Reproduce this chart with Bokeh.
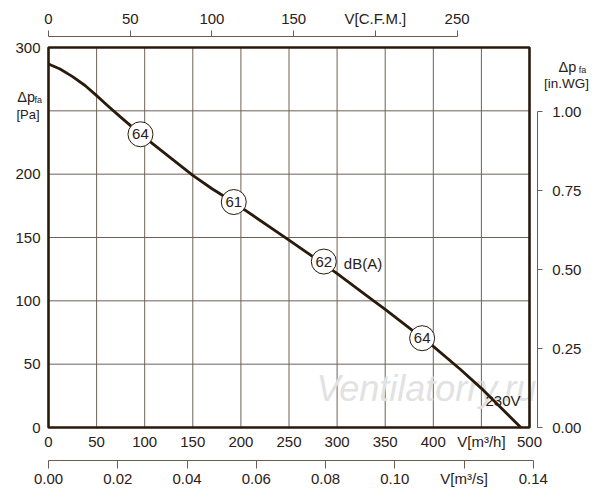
from bokeh.plotting import figure
from bokeh.models import (Range1d, LinearAxis, FixedTicker, BoxAnnotation, Label,
                          ColumnDataSource, NumeralTickFormatter)
from bokeh.embed import file_html
from bokeh.resources import INLINE
from bokeh.core.properties import value

# ---------------- data ----------------
flow_m3h = [0, 12, 25, 38, 50, 63, 75, 95, 120, 150, 170, 192, 250, 298, 338, 350, 388, 400, 428, 452, 491]
pressure_pa = [287, 283, 277, 270, 262, 253, 245, 232, 217, 199, 188.5, 178, 148, 122.6, 100, 93.3, 71, 64, 46, 29.5, 0]

noise_flow = [95.6, 192.6, 286.2, 388.4]
noise_pa = [231.5, 178, 131, 70.5]
noise_db = ["64", "61", "62", "64"]

x_ticks = [0, 50, 100, 150, 200, 250, 300, 350, 400, 450, 500]
y_grid = [0, 50, 100, 150, 200, 250, 300]
y_ticks = [0, 50, 100, 150, 200, 300]
cfm_ticks = [0, 50, 100, 150, 200, 250]
m3s_ticks = [0.0, 0.02, 0.04, 0.06, 0.08, 0.10, 0.12, 0.14]
inwg_ticks = [0.0, 0.25, 0.5, 0.75, 1.0]

M3H_PER_CFM = 1.699
M3H_PER_M3S = 3600.0
PA_PER_INWG = 249.09

X_MAX = x_ticks[-1]
Y_MAX = y_grid[-1]

# ---------------- layout (pixels) ----------------
W, H = 596, 496
BOX_LEFT_PX, BOX_BOTTOM_PX = 48, 427
PX_X = 481 / X_MAX      # px per m3/h
PX_Y = 380 / Y_MAX      # px per Pa


def dx(px):
    return (px - BOX_LEFT_PX) / PX_X


def dy(py):
    return (BOX_BOTTOM_PX - py) / PX_Y


X0, X1 = dx(0), dx(W)
Y0, Y1 = dy(H), dy(0)

TXT = "#2a2016"
DARK = "#2a1a0c"
AXC = "#6b5d50"
GRID = "#6e6256"
FONT = "Liberation Sans"

p = figure(width=W, height=H,
           x_range=Range1d(X0, X1), y_range=Range1d(Y0, Y1),
           output_backend="svg", toolbar_location=None,
           min_border_left=0, min_border_right=0,
           min_border_top=0, min_border_bottom=0,
           outline_line_color=None)
p.title.visible = False
p.xgrid.visible = False
p.ygrid.visible = False

p.extra_x_ranges = {"cfm": Range1d(X0 / M3H_PER_CFM, X1 / M3H_PER_CFM),
                    "m3s": Range1d(X0 / M3H_PER_M3S, X1 / M3H_PER_M3S)}
p.extra_y_ranges = {"inwg": Range1d(Y0 / PA_PER_INWG, Y1 / PA_PER_INWG)}


def style(ax, size="15px"):
    ax.major_label_text_font = FONT
    ax.major_label_text_font_size = size
    ax.major_label_text_color = TXT
    ax.minor_tick_line_color = None
    ax.minor_tick_out = 0
    ax.minor_tick_in = 0
    ax.major_tick_in = 0
    ax.axis_line_color = AXC
    ax.major_tick_line_color = AXC


# bottom m3/h axis (on the chart box bottom)
bx = p.xaxis[0]
style(bx)
bx.ticker = FixedTicker(ticks=x_ticks)
bx.major_label_overrides = {450: "V[m³/h]"}
bx.axis_line_color = None
bx.major_tick_line_color = None
bx.major_tick_out = 0
bx.major_label_standoff = 5
bx.fixed_location = 0

# left Pa axis
ly = p.yaxis[0]
style(ly)
ly.ticker = FixedTicker(ticks=y_ticks)
ly.axis_line_color = None
ly.major_tick_line_color = None
ly.major_tick_out = 0
ly.major_label_standoff = 8
ly.fixed_location = 0

# top CFM axis
tx = LinearAxis(x_range_name="cfm", ticker=FixedTicker(ticks=cfm_ticks), bounds=(0, 250))
style(tx)
tx.major_label_overrides = {200: "V[C.F.M.]"}
tx.major_tick_out = 6
tx.major_label_standoff = 3
tx.fixed_location = dy(35.7)
p.add_layout(tx, "above")

# right in.WG axis
ry = LinearAxis(y_range_name="inwg", ticker=FixedTicker(ticks=inwg_ticks), bounds=(0, 1.0),
                formatter=NumeralTickFormatter(format="0.00"))
style(ry)
ry.major_tick_out = 5
ry.major_label_standoff = 10
ry.fixed_location = dx(536.7)
p.add_layout(ry, "right")

# bottom m3/s axis
sx = LinearAxis(x_range_name="m3s", ticker=FixedTicker(ticks=m3s_ticks), bounds=(0, 0.14),
                formatter=NumeralTickFormatter(format="0.00"))
style(sx)
sx.major_label_overrides = {0.12: "V[m³/s]"}
sx.major_tick_out = 8
sx.major_label_standoff = 1
sx.fixed_location = dy(460)
p.add_layout(sx, "below")

# grid lines inside the chart box
gx = x_ticks[1:-1]
gy = y_grid[1:-1]
p.segment(x0=gx, y0=[0] * len(gx), x1=gx, y1=[Y_MAX] * len(gx), line_color=GRID, line_width=1)
p.segment(x0=[0] * len(gy), y0=gy, x1=[X_MAX] * len(gy), y1=gy, line_color=GRID, line_width=1)

# watermark
p.text(x=[dx(316)], y=[dy(388)], text=["Ventilatorry.ru"], text_font=value(FONT),
       text_font_style="italic", text_font_size="36px", text_color="#e2e2e2",
       text_baseline="middle", text_align="left")

# frame box
p.add_layout(BoxAnnotation(left=0, right=X_MAX, bottom=0, top=Y_MAX, fill_color=None,
                           line_color=DARK, line_width=2.6, line_alpha=1))

# fan curve
p.line(flow_m3h, pressure_pa, line_color=DARK, line_width=2.8, line_join="round")

# noise markers
src = ColumnDataSource(dict(x=noise_flow, y=noise_pa, t=noise_db))
p.scatter("x", "y", source=src, marker="circle", size=25, fill_color="white",
          line_color=DARK, line_width=1)
p.text("x", "y", text="t", source=src, text_font=value(FONT), text_font_size="15px",
       text_color=TXT, text_align="center", text_baseline="middle")

p.text(x=[dx(343.3)], y=[dy(262.5)], text=["dB(A)"], text_font=value(FONT), text_font_size="15px",
       text_color=TXT, text_align="left", text_baseline="middle")
p.text(x=[dx(485)], y=[dy(400)], text=["230V"], text_font=value(FONT), text_font_size="15px",
       text_color=TXT, text_align="left", text_baseline="middle")


# axis titles (Δp_fa)
def lab(px, py, t, size):
    p.add_layout(Label(x=dx(px), y=dy(py), text=t, text_font=FONT, text_font_size=size,
                       text_color=TXT, text_baseline="alphabetic", text_align="left"))


lab(16.7, 96.5, "Δp", "14.5px")
lab(34.0, 99.0, "fa", "9px")
lab(16.0, 113.5, "[Pa]", "13px")
lab(558.0, 66.5, "Δp", "14.5px")
lab(578.3, 69.5, "fa", "9px")
lab(543.5, 83.2, "[in.WG]", "13.5px")

open("out.html", "w").write(file_html(p, INLINE))
